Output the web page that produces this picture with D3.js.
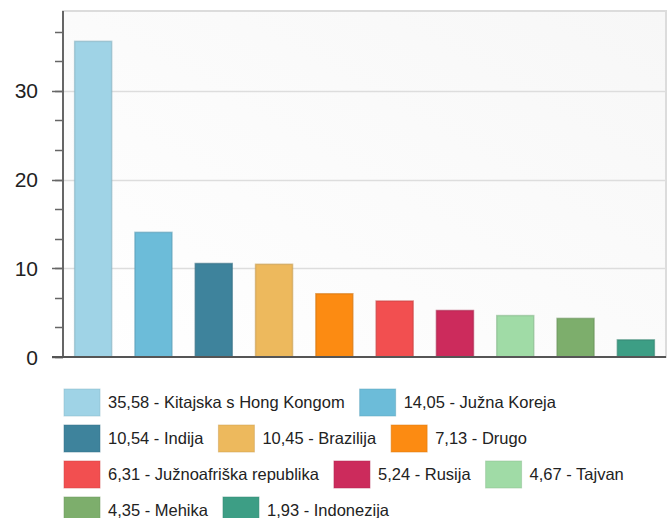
<!DOCTYPE html>
<html>
<head>
<meta charset="utf-8">
<script src="https://cdn.jsdelivr.net/npm/d3@7"></script>
<style>
body{margin:0;background:#fff;}
text{font-family:"Liberation Sans",Arial,sans-serif;fill:#222;}
</style>
</head>
<body>
<svg id="chart" width="668" height="518"></svg>
<script>
var categories = ["Kitajska s Hong Kongom","Južna Koreja","Indija","Brazilija","Drugo",
                  "Južnoafriška republika","Rusija","Tajvan","Mehika","Indonezija"];
var values = [35.58,14.05,10.54,10.45,7.13,6.31,5.24,4.67,4.35,1.93];
var colors = ["#9fd3e6","#6cbcd9","#3e839c","#edb95d","#fc8b12",
              "#f24f50","#cc2b5c","#a0dba6","#7dae6c","#3d9e85"];
var yTicks = [0,10,20,30];

var pLeft=63, pRight=666, pTop=11, pBottom=357;
var svg = d3.select("#chart");

// background of plot area
var grad = svg.append("defs").append("linearGradient")
    .attr("id","bg").attr("x1","0").attr("y1","1").attr("x2","1").attr("y2","0");
grad.append("stop").attr("offset","0%").attr("stop-color","#ffffff");
grad.append("stop").attr("offset","100%").attr("stop-color","#f7f7f7");

svg.append("rect").attr("x",pLeft).attr("y",pTop)
    .attr("width",pRight-pLeft).attr("height",pBottom-pTop)
    .attr("fill","url(#bg)").attr("stroke","#dcdcdc").attr("stroke-width",2);

var x = d3.scaleBand().domain(categories).range([pLeft,pRight]).paddingInner(0.386).paddingOuter(0.193);
var y = d3.scaleLinear().domain([0,39]).range([pBottom,pTop]);

// grid
svg.append("g").selectAll("line").data(yTicks.slice(1)).enter().append("line")
    .attr("x1",pLeft).attr("x2",pRight)
    .attr("y1",function(d){return Math.round(y(d))+0.5;})
    .attr("y2",function(d){return Math.round(y(d))+0.5;})
    .attr("stroke","#dddddd").attr("stroke-width",1.5);

// bars
svg.append("g").selectAll("rect").data(values).enter().append("rect")
    .attr("x",function(d,i){return x(categories[i]);})
    .attr("y",function(d){return y(d);})
    .attr("width",x.bandwidth())
    .attr("height",function(d){return y(0)-y(d);})
    .attr("fill",function(d,i){return colors[i];})
    .attr("stroke",function(d,i){return d3.color(colors[i]).darker(0.5);})
    .attr("stroke-opacity",0.6)
    .attr("stroke-width",1.5);

// y axis
var minor = d3.range(0,39,10/3);
var yAxis = svg.append("g");
yAxis.selectAll("line.minor").data(minor).enter().append("line")
    .attr("x1",pLeft-8).attr("x2",pLeft)
    .attr("y1",function(d){return Math.round(y(d))+0.5;})
    .attr("y2",function(d){return Math.round(y(d))+0.5;})
    .attr("stroke","#666").attr("stroke-width",1.5);
yAxis.selectAll("line.major").data(yTicks).enter().append("line")
    .attr("x1",pLeft-11).attr("x2",pLeft)
    .attr("y1",function(d){return Math.round(y(d))+0.5;})
    .attr("y2",function(d){return Math.round(y(d))+0.5;})
    .attr("stroke","#666").attr("stroke-width",1.5);
yAxis.selectAll("text").data(yTicks).enter().append("text")
    .attr("x",38).attr("y",function(d){return y(d);})
    .attr("dy","0.36em").attr("text-anchor","end")
    .style("font-size","21px")
    .text(function(d){return d;});
yAxis.append("line").attr("x1",pLeft).attr("x2",pLeft).attr("y1",pTop).attr("y2",pBottom)
    .attr("stroke","#666").attr("stroke-width",2);
svg.append("line").attr("x1",pLeft-11).attr("x2",pRight).attr("y1",pBottom).attr("y2",pBottom)
    .attr("stroke","#555").attr("stroke-width",2);

// legend
var lg = svg.append("g");
var lx = 64, ly = 389, maxX = 668;
values.forEach(function(v,i){
    var label = d3.format(".2f")(v).replace(".",",") + " - " + categories[i];
    var item = lg.append("g");
    item.append("rect").attr("x",0).attr("y",0).attr("width",36).attr("height",27)
        .attr("fill",colors[i]).attr("stroke",d3.color(colors[i]).darker(0.4)).attr("stroke-opacity",0.5);
    var t = item.append("text").attr("x",44).attr("y",19)
        .style("font-size","16.5px").text(label);
    var w = 44 + t.node().getComputedTextLength();
    if (lx + w > maxX) { lx = 64; ly += 36; }
    item.attr("transform","translate("+lx+","+ly+")");
    lx += w + 15;
});
</script>
</body>
</html>
